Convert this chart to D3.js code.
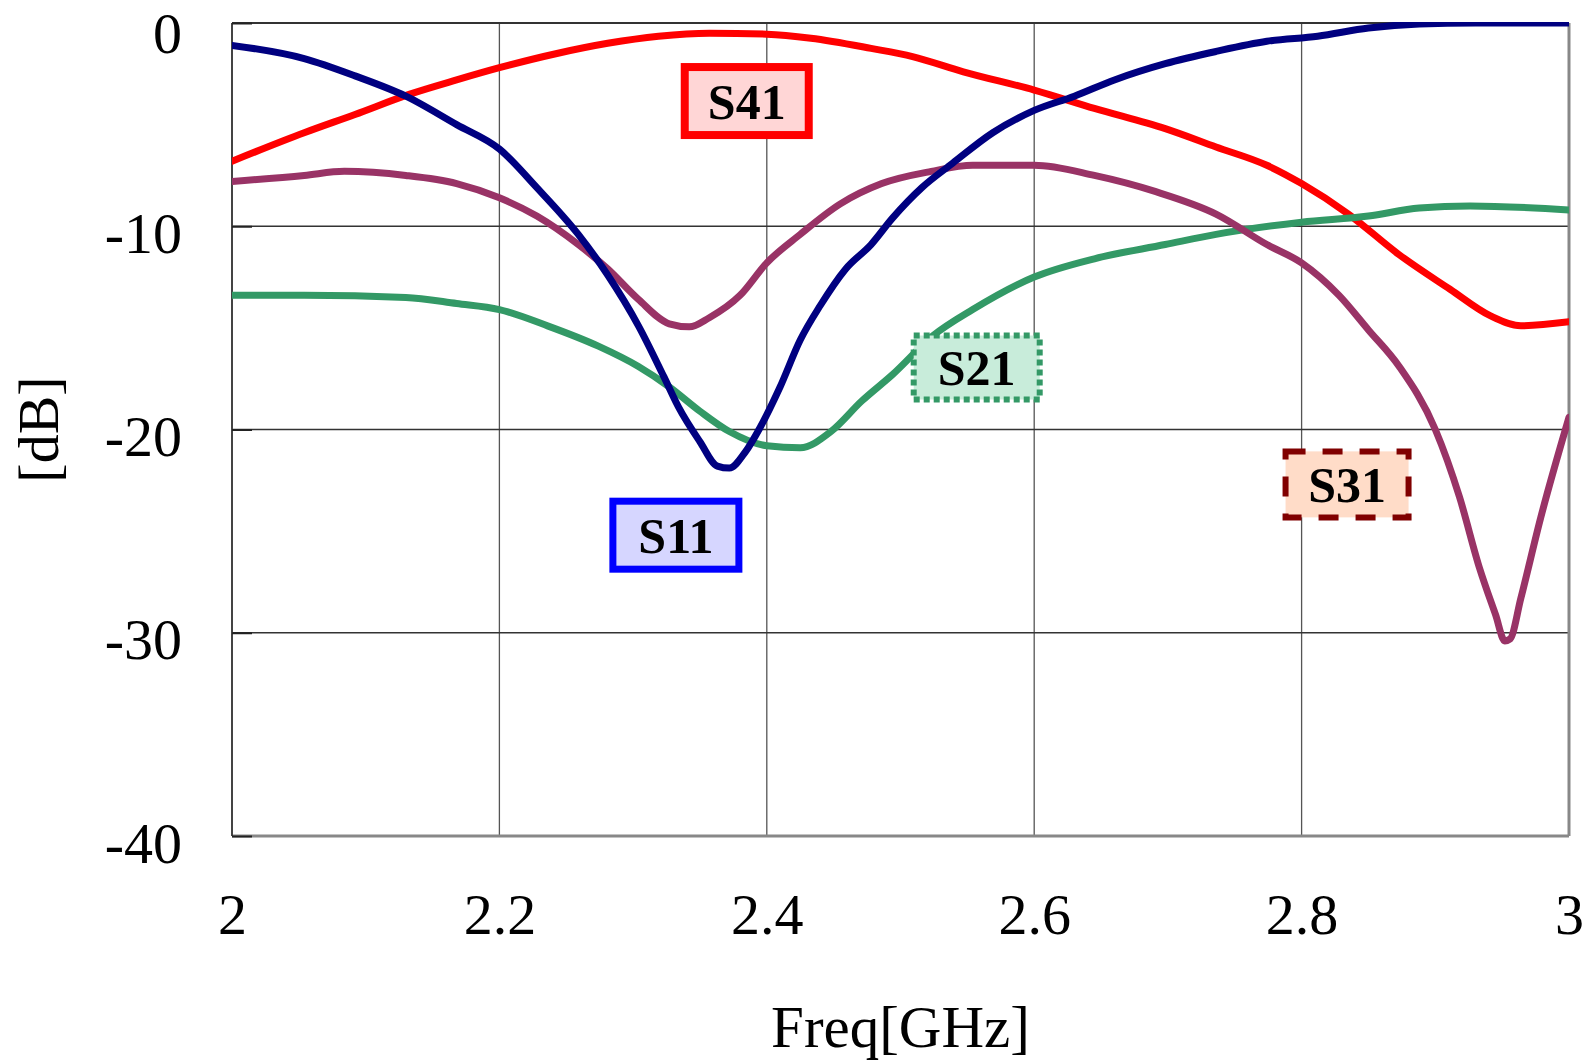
<!DOCTYPE html>
<html>
<head>
<meta charset="utf-8">
<script src="https://cdn.jsdelivr.net/npm/d3@7"></script>
<style>
	body { margin: 0; background: #fff; }
	text { font-family: "Liberation Serif", "Times New Roman", serif; }
</style>
</head>
<body>
<div id="chart"></div>
<script>
// S-parameter sweeps
var s11Freq = [2.0, 2.054, 2.092, 2.13, 2.168, 2.2, 2.228, 2.259, 2.281, 2.304, 2.323, 2.334, 2.35, 2.363, 2.372, 2.384, 2.395, 2.41, 2.425, 2.44, 2.459, 2.478, 2.494, 2.516, 2.539, 2.569, 2.6, 2.63, 2.66, 2.698, 2.736, 2.774, 2.812, 2.85, 2.888, 2.93, 3.0];
var s11dB   = [-1.1, -1.75, -2.6, -3.6, -5.0, -6.2, -8.1, -10.4, -12.4, -14.9, -17.4, -18.9, -20.6, -21.8, -21.9, -21.1, -19.9, -17.9, -15.6, -13.9, -12.1, -10.9, -9.6, -8.1, -6.9, -5.4, -4.3, -3.6, -2.8, -2.0, -1.4, -0.9, -0.65, -0.25, -0.05, 0, 0];

var s21Freq = [2.0, 2.054, 2.13, 2.168, 2.2, 2.236, 2.274, 2.304, 2.327, 2.35, 2.372, 2.4, 2.425, 2.448, 2.471, 2.494, 2.524, 2.554, 2.6, 2.645, 2.698, 2.736, 2.8, 2.85, 2.888, 2.926, 3.0];
var s21dB   = [-13.4, -13.4, -13.5, -13.8, -14.1, -14.9, -15.9, -16.9, -17.9, -19.1, -20.1, -20.8, -20.9, -20.1, -18.6, -17.3, -15.4, -14.1, -12.5, -11.6, -10.9, -10.4, -9.8, -9.5, -9.1, -9.0, -9.2];

var s31Freq = [2.0, 2.054, 2.084, 2.13, 2.168, 2.2, 2.228, 2.259, 2.281, 2.304, 2.327, 2.342, 2.357, 2.38, 2.4, 2.425, 2.455, 2.486, 2.523, 2.554, 2.6, 2.645, 2.691, 2.736, 2.774, 2.8, 2.828, 2.85, 2.873, 2.9, 2.918, 2.933, 2.945, 2.952, 2.956, 2.964, 2.979, 3.0];
var s31dB   = [-7.8, -7.5, -7.3, -7.5, -7.9, -8.6, -9.5, -10.9, -12.1, -13.6, -14.8, -14.95, -14.5, -13.4, -11.8, -10.4, -8.9, -7.9, -7.3, -7.0, -7.0, -7.5, -8.3, -9.4, -10.9, -11.8, -13.4, -15.1, -16.9, -20.0, -23.3, -26.8, -29.1, -30.4, -30.3, -28.3, -24.3, -19.4];

var s41Freq = [2.0, 2.054, 2.092, 2.133, 2.168, 2.2, 2.243, 2.281, 2.319, 2.357, 2.4, 2.433, 2.478, 2.509, 2.547, 2.6, 2.645, 2.698, 2.736, 2.774, 2.8, 2.835, 2.873, 2.911, 2.941, 2.964, 3.0];
var s41dB   = [-6.8, -5.4, -4.5, -3.5, -2.8, -2.2, -1.5, -1.0, -0.65, -0.5, -0.55, -0.75, -1.25, -1.65, -2.4, -3.3, -4.2, -5.2, -6.1, -7.0, -7.9, -9.4, -11.4, -13.1, -14.4, -14.9, -14.7];

var xTicks = [2, 2.2, 2.4, 2.6, 2.8, 3];
var yTicks = [0, -10, -20, -30, -40];

// label boxes: name, centre freq, centre dB
var labelNames = ["S41", "S21", "S11", "S31"];
var labelFreq  = [2.385, 2.557, 2.332, 2.834];
var labelDB    = [-3.84, -16.95, -25.2, -22.7];

var W = 1590, H = 1062,
	margin = {top: 23, right: 21, bottom: 226, left: 232},
	width = W - margin.left - margin.right,
	height = H - margin.top - margin.bottom;

var svg = d3.select("#chart").append("svg")
	.attr("width", W)
	.attr("height", H);

var g = svg.append("g").attr("transform", "translate(" + margin.left + "," + margin.top + ")");

var x = d3.scaleLinear().domain([2, 3]).range([0, width]);
var y = d3.scaleLinear().domain([-40, 0]).range([height, 0]);

// grid
g.append("g")
	.selectAll("line")
	.data(xTicks.slice(1, -1))
	.enter().append("line")
	.attr("x1", function (d) { return x(d); })
	.attr("x2", function (d) { return x(d); })
	.attr("y1", 0).attr("y2", height)
	.attr("stroke", "#555").attr("stroke-width", 1.3);

g.append("g")
	.selectAll("line")
	.data(yTicks.slice(1, -1))
	.enter().append("line")
	.attr("y1", function (d) { return y(d); })
	.attr("y2", function (d) { return y(d); })
	.attr("x1", 0).attr("x2", width)
	.attr("stroke", "#333").attr("stroke-width", 1.3);

// frame
g.append("line").attr("x1", 0).attr("x2", width).attr("y1", height).attr("y2", height)
	.attr("stroke", "#888").attr("stroke-width", 3);
g.append("line").attr("x1", width).attr("x2", width).attr("y1", 0).attr("y2", height)
	.attr("stroke", "#888").attr("stroke-width", 3);
g.append("line").attr("x1", 0).attr("x2", width).attr("y1", 0).attr("y2", 0)
	.attr("stroke", "#333").attr("stroke-width", 2);
g.append("line").attr("x1", 0).attr("x2", 0).attr("y1", 0).attr("y2", height)
	.attr("stroke", "#444").attr("stroke-width", 2);

// axes (labels only, grid drawn above)
var yAxis = g.append("g")
	.call(d3.axisLeft(y).tickValues(yTicks).tickSize(-20).tickPadding(50).tickFormat(function (d) { return String(d); }));
yAxis.select(".domain").remove();
yAxis.selectAll("line").attr("stroke", "#222").attr("stroke-width", 2);
yAxis.selectAll("text")
	.attr("font-size", 58)
	.attr("fill", "#000")
	.attr("dy", function (d) { return d === 0 ? "0.5em" : "0.45em"; });

var xAxis = g.append("g")
	.attr("transform", "translate(0," + height + ")")
	.call(d3.axisBottom(x).tickValues(xTicks).tickSize(0).tickPadding(72).tickFormat(function (d) { return String(d); }));
xAxis.select(".domain").remove();
xAxis.selectAll("text")
	.attr("font-size", 58)
	.attr("fill", "#000")
	.attr("dy", "0.45em");

svg.append("text")
	.attr("x", margin.left + x(2.5))
	.attr("y", 1047)
	.attr("text-anchor", "middle")
	.attr("font-size", 59)
	.text("Freq[GHz]");

svg.append("text")
	.attr("transform", "translate(58," + (margin.top + y(-20)) + ") rotate(-90)")
	.attr("text-anchor", "middle")
	.attr("font-size", 58)
	.text("[dB]");

// curves
svg.append("defs").append("clipPath").attr("id", "plotclip")
	.append("rect").attr("x", 0).attr("y", -1).attr("width", width).attr("height", height + 1);

var line = d3.line()
	.x(function (d) { return x(d[0]); })
	.y(function (d) { return y(d[1]); })
	.curve(d3.curveMonotoneX);

var series = [
	{f: s41Freq, v: s41dB, color: "#FF0000"},
	{f: s21Freq, v: s21dB, color: "#339966"},
	{f: s31Freq, v: s31dB, color: "#993366"},
	{f: s11Freq, v: s11dB, color: "#000080"}
];

var lines = g.append("g").attr("clip-path", "url(#plotclip)");
series.forEach(function (s) {
	lines.append("path")
		.datum(d3.zip(s.f, s.v))
		.attr("fill", "none")
		.attr("stroke", s.color)
		.attr("stroke-width", 7)
		.attr("stroke-linejoin", "round")
		.attr("stroke-linecap", "round")
		.attr("d", line);
});

// label boxes
var boxStyle = {
	S41: {w: 124, h: 68, stroke: "#FF0000", sw: 8, fill: "#FFD6D6", dash: null},
	S21: {w: 126, h: 64, stroke: "#339966", sw: 6, fill: "#C8ECDA", dash: "6,4"},
	S11: {w: 126, h: 68, stroke: "#0000FF", sw: 7, fill: "#D6D6FF", dash: null},
	S31: {w: 123, h: 66, stroke: "#800000", sw: 6, fill: "#FFDCC8", dash: "20,17"}
};

labelNames.forEach(function (name, i) {
	var st = boxStyle[name],
		cx = x(labelFreq[i]),
		cy = y(labelDB[i]);
	var bg = g.append("g");
	bg.append("rect")
		.attr("x", cx - st.w / 2).attr("y", cy - st.h / 2)
		.attr("width", st.w).attr("height", st.h)
		.attr("fill", st.fill)
		.attr("stroke", st.stroke)
		.attr("stroke-width", st.sw)
		.attr("stroke-dasharray", st.dash);
	bg.append("text")
		.attr("x", cx).attr("y", cy)
		.attr("dy", "0.35em")
		.attr("text-anchor", "middle")
		.attr("font-size", 50)
		.attr("font-weight", "bold")
		.text(name);
});
</script>
</body>
</html>
